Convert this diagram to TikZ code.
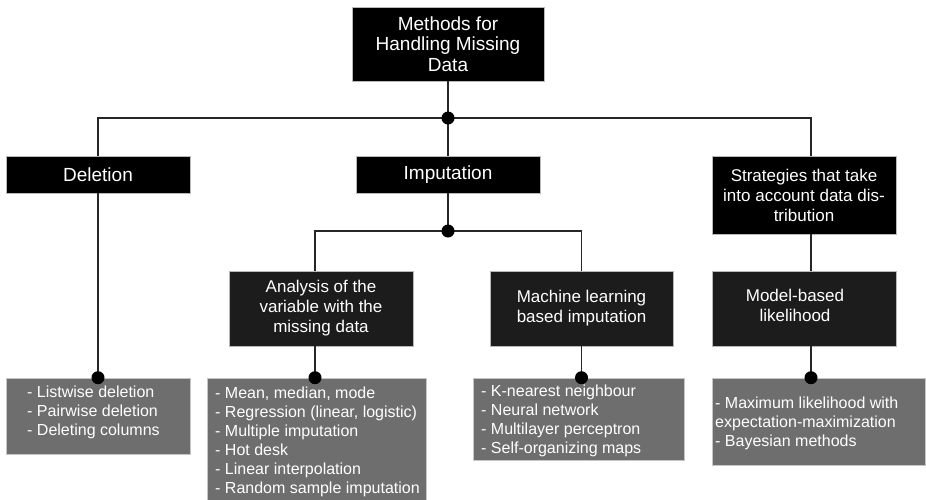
\documentclass[tikz,border=0pt]{standalone}
\usepackage{fontspec}
\setmainfont{Liberation Sans}
\definecolor{subfill}{HTML}{1C1C1C}
\definecolor{listfill}{HTML}{6E6E6E}
\begin{document}
\begin{tikzpicture}[x=1pt,y=-1pt,
  box/.style={draw=gray!55, line width=0.6pt, text=white, inner sep=0pt, align=center},
  topbox/.style={box, fill=black, font=\fontsize{19}{20.5}\selectfont},
  subbox/.style={box, fill=subfill, font=\fontsize{17}{20}\selectfont},
  listbox/.style={draw=gray!45, line width=0.6pt, fill=listfill, inner sep=0pt},
  listtext/.style={text=white, anchor=north west, inner sep=0pt, align=left, font=\fontsize{16}{19}\selectfont},
  link/.style={draw=black!85, line width=1.2pt},
  dot/.style={circle, fill=black, inner sep=0pt, minimum size=13pt}
]
\useasboundingbox (0,0) rectangle (926,499);

% root and first level
\node[topbox, minimum width=192pt, minimum height=74pt] (root) at (448,44) {Methods for\\Handling Missing\\Data};
\node[topbox, minimum width=184pt, minimum height=37pt] (del) at (98,174.5) {Deletion};
\node[topbox, minimum width=184pt, minimum height=37pt] (imp) at (448,174.5) {Imputation};
\node[topbox, minimum width=184pt, minimum height=78pt, font=\fontsize{17}{20}\selectfont] (str) at (804,195) {Strategies that take\\into account data dis-\\tribution};

% second level
\node[subbox, minimum width=184pt, minimum height=75pt] (ana) at (321,308.5) {Analysis of the\\variable with the\\missing data};
\node[subbox, minimum width=183pt, minimum height=75pt] (ml) at (581.5,308.5) {Machine learning\\based imputation};
\node[subbox, minimum width=184pt, minimum height=75pt] (mod) at (804,308.5) {};
\node[text=white, inner sep=0pt, align=center, font=\fontsize{17}{20}\selectfont] (modtext) at (795,305) {Model-based\\likelihood};

% method lists
\node[listbox, minimum width=184pt, minimum height=76pt] (dellist) at (98,416) {};
\node[listtext] (dellisttext) at (27,386) {- Listwise deletion\\- Pairwise deletion\\- Deleting columns};

\node[listbox, minimum width=219pt, minimum height=124pt] (analist) at (316.5,440) {};
\node[listtext] (analisttext) at (215,387) {- Mean, median, mode\\- Regression (linear, logistic)\\- Multiple imputation\\- Hot desk\\- Linear interpolation\\- Random sample imputation};

\node[listbox, minimum width=211pt, minimum height=82pt] (mllist) at (578.5,419) {};
\node[listtext] (mllisttext) at (481,385) {- K-nearest neighbour\\- Neural network\\- Multilayer perceptron\\- Self-organizing maps};

\node[listbox, minimum width=213pt, minimum height=87pt] (modlist) at (818.5,421.5) {};
\node[listtext] (modlisttext) at (715,397) {- Maximum likelihood with\\expectation-maximization\\- Bayesian methods};

% junctions
\coordinate (j1) at (448,118);
\coordinate (j2) at (448,231);

% connectors
\draw[link] (root.south) -- (j1);
\draw[link] (del.north) |- (j1) -| ([xshift=7pt]str.north);
\draw[link] (j1) -- (imp.north);
\draw[link] (imp.south) -- (j2);
\draw[link] ([xshift=-6pt]ana.north) |- (j2) -| (ml.north);
\draw[link] ([xshift=7pt]str.south) -- ([xshift=7pt]mod.north);
\draw[link] (del.south) -- (dellist.north);
\draw[link] ([xshift=-6pt]ana.south) -- ([xshift=-6pt]ana.south |- analist.north);
\draw[link] (ml.south) -- (ml.south |- mllist.north);
\draw[link] ([xshift=7pt]mod.south) -- ([xshift=7pt]mod.south |- modlist.north);

% junction dots
\node[dot] (j1dot) at (j1) {};
\node[dot] (j2dot) at (j2) {};
\node[dot] (deldot) at (dellist.north) {};
\node[dot] (anadot) at ([xshift=-6pt]ana.south |- analist.north) {};
\node[dot] (mldot) at (ml.south |- mllist.north) {};
\node[dot] (moddot) at ([xshift=7pt]mod.south |- modlist.north) {};
\end{tikzpicture}
\end{document}
